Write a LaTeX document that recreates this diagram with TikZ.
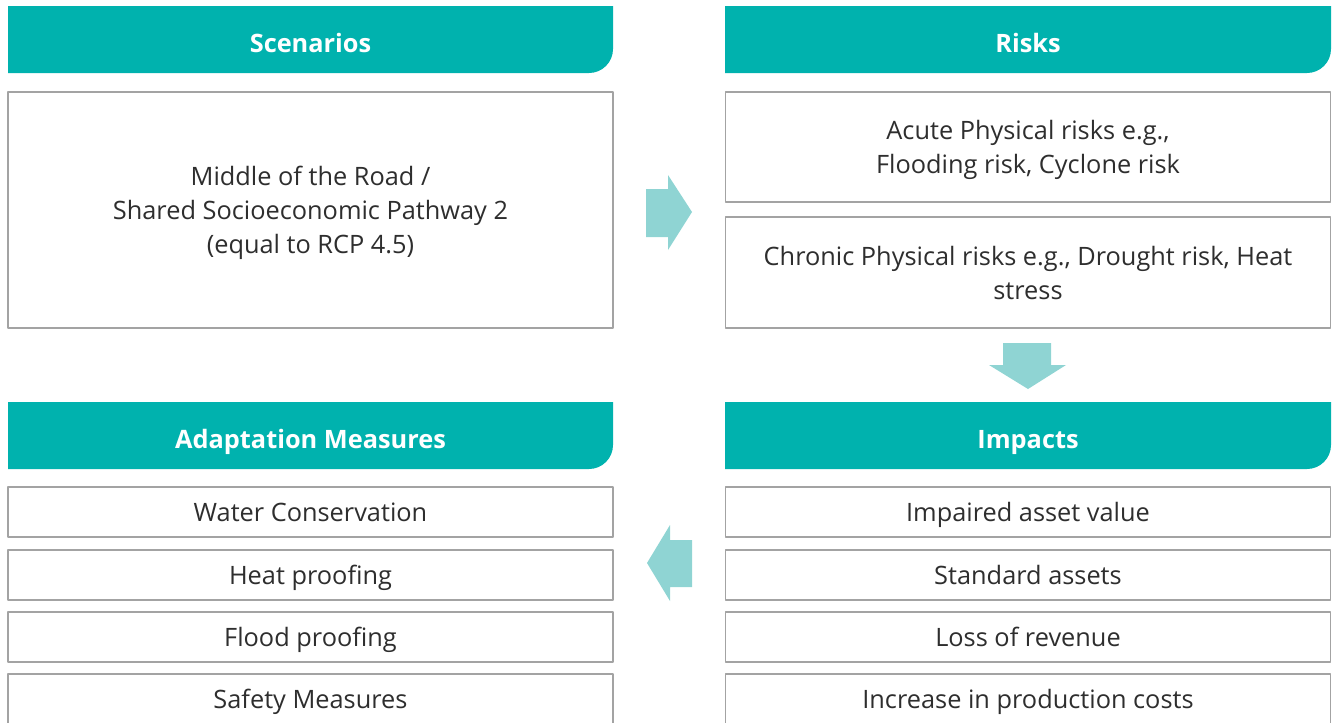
\documentclass[tikz,border=0pt]{standalone}
\usepackage{fontspec}
\setmainfont{Open Sans}
\usepackage{tikz}
\usetikzlibrary{positioning}
\definecolor{hdrteal}{HTML}{00B2AE}
\definecolor{arrteal}{HTML}{8FD4D3}
\definecolor{cellgray}{HTML}{A3A3A3}
\definecolor{cellink}{HTML}{2E2E2E}
\tikzset{
  hdrtext/.style={font=\fontsize{19}{26}\selectfont\bfseries,text=white,inner sep=0pt,anchor=base},
  cell/.style={draw=cellgray,line width=1.1pt,fill=white,text=cellink,align=center,
    font=\fontsize{19}{25.5}\selectfont,inner sep=0pt,text depth=0pt,minimum width=605*0.75pt},
  blockarrow/.style={fill=arrteal,draw=none}
}
\begin{document}
\begin{tikzpicture}[x=0.75pt,y=-0.75pt,line cap=round,line join=round]
\path[use as bounding box] (0,0) rectangle (1332,722);
% headers
\fill[hdrteal] (8,6) -- (613,6) [rounded corners=18pt] -- (613,73) [sharp corners] -- (8,73) -- cycle;
\fill[hdrteal] (725,6) -- (1331,6) [rounded corners=18pt] -- (1331,73) [sharp corners] -- (725,73) -- cycle;
\fill[hdrteal] (8,402) -- (613,402) [rounded corners=18pt] -- (613,469) [sharp corners] -- (8,469) -- cycle;
\fill[hdrteal] (725,402) -- (1331,402) [rounded corners=18pt] -- (1331,469) [sharp corners] -- (725,469) -- cycle;
\node[hdrtext] (scen) at (310.5,52) {Scenarios};
\node[hdrtext] (risks) at (1028,52) {Risks};
\node[hdrtext] (adapt) at (310.5,448) {Adaptation Measures};
\node[hdrtext] (impacts) at (1028,448) {Impacts};
% cells
\node[cell,minimum height=236*0.75pt] (ssp) at (310.5,210) {Middle of the Road /\\Shared Socioeconomic Pathway 2\\(equal to RCP 4.5)};
\node[cell,minimum height=110*0.75pt] (acute) at (1028,147) {Acute Physical risks e.g.,\\Flooding risk, Cyclone risk};
\node[cell,minimum height=111*0.75pt] (chronic) at (1028,272.5) {Chronic Physical risks e.g., Drought risk, Heat\\stress};
\node[cell,minimum height=50*0.75pt] (water) at (310.5,512) {Water Conservation};
\node[cell,minimum height=50*0.75pt] (heat) at (310.5,575) {Heat proofing};
\node[cell,minimum height=50*0.75pt] (flood) at (310.5,637) {Flood proofing};
\node[cell,minimum height=50*0.75pt] (safety) at (310.5,699) {Safety Measures};
\node[cell,minimum height=50*0.75pt] (impaired) at (1028,512) {Impaired asset value};
\node[cell,minimum height=50*0.75pt] (standard) at (1028,575) {Standard assets};
\node[cell,minimum height=50*0.75pt] (revenue) at (1028,637) {Loss of revenue};
\node[cell,minimum height=50*0.75pt] (costs) at (1028,699) {Increase in production costs};
% block arrows
\fill[blockarrow] (646,189) -- (668,189) -- (668,175) -- (692,212) -- (668,250) -- (668,237) -- (646,237) -- cycle;
\fill[blockarrow] (1003,343) -- (1051,343) -- (1051,365) -- (1066,365) -- (1028,389) -- (989,365) -- (1003,365) -- cycle;
\fill[blockarrow] (692,540) -- (670,540) -- (670,525) -- (647,563) -- (670,601) -- (670,587) -- (692,587) -- cycle;
\end{tikzpicture}
\end{document}
